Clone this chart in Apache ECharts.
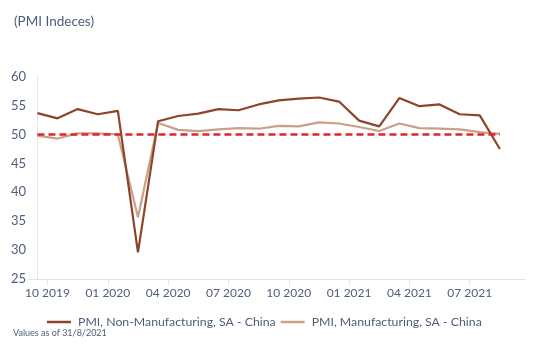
<!DOCTYPE html>
<html>
<head>
<meta charset="utf-8">
<script src="https://cdn.jsdelivr.net/npm/echarts@6/dist/echarts.min.js"></script>
<style>html,body{margin:0;padding:0;background:#fff;}#c{width:556px;height:359px;}</style>
</head>
<body>
<div id="c"></div>
<script>
// Monthly, Sep 2019 .. Aug 2021
const months = ['09 2019','10 2019','11 2019','12 2019','01 2020','02 2020','03 2020','04 2020','05 2020','06 2020','07 2020','08 2020','09 2020','10 2020','11 2020','12 2020','01 2021','02 2021','03 2021','04 2021','05 2021','06 2021','07 2021','08 2021'];
const nonManufacturing = [53.7,52.8,54.4,53.5,54.1,29.6,52.3,53.2,53.6,54.4,54.2,55.2,55.9,56.2,56.4,55.7,52.4,51.4,56.3,54.9,55.2,53.5,53.3,47.5];
const manufacturing = [49.8,49.3,50.2,50.2,50.0,35.7,52.0,50.8,50.6,50.9,51.1,51.0,51.5,51.4,52.1,51.9,51.3,50.6,51.9,51.1,51.0,50.9,50.4,50.1];
const threshold = 50;
const tickLabels = ['10 2019','01 2020','04 2020','07 2020','10 2020','01 2021','04 2021','07 2021'];
const tickPositions = [0.5,3.5,6.5,9.5,12.5,15.5,18.5,21.5];

const FONT = 'Lato';
const TXT = '#4f5d7a';
const chart = echarts.init(document.getElementById('c'), null, {renderer:'canvas'});
const toPairs = arr => arr.map((v,i)=>[i,v]);
chart.setOption({
  animation:false,
  textStyle:{fontFamily:FONT},
  grid:{left:29, right:31, top:76.7, bottom:80, containLabel:false},
  graphic:[
    {type:'text', left:14, top:15, style:{text:'(PMI Indeces)', fill:TXT, font:'13.5px '+FONT}},
    {type:'text', left:13, top:328.5, style:{text:'Values as of 31/8/2021', fill:TXT, font:'9px '+FONT}}
  ],
  legend:{
    left:42, top:311, itemWidth:24, itemHeight:2.5, itemGap:5, icon:'rect',
    textStyle:{color:TXT, fontSize:12.3, fontFamily:FONT, padding:[0,0,0,2]},
    data:['PMI, Non-Manufacturing, SA - China','PMI, Manufacturing, SA - China']
  },
  xAxis:{
    type:'value', min:-0.42, max:24.25,
    axisLine:{show:true, lineStyle:{color:'#e3e3e3', width:1}},
    axisTick:{show:true, length:6, customValues:tickPositions, lineStyle:{color:'#e3e3e3'}},
    axisLabel:{customValues:tickPositions, color:TXT, fontSize:12, fontFamily:FONT, margin:8,
      formatter:(v)=>{const i=tickPositions.indexOf(v); return i>=0?tickLabels[i]:'';}},
    splitLine:{show:false}
  },
  yAxis:{
    type:'value', min:25, max:60, interval:5,
    axisLine:{show:true, lineStyle:{color:'#e6e6e6', width:1}},
    axisTick:{show:false},
    axisLabel:{color:TXT, fontSize:13, fontFamily:FONT, margin:3},
    splitLine:{show:false}
  },
  series:[
    {name:'PMI, Non-Manufacturing, SA - China', type:'line', data:toPairs(nonManufacturing), symbol:'none',
     lineStyle:{color:'#8c4528', width:2.2}, itemStyle:{color:'#8c4528'}, z:3,
     markLine:{silent:true, symbol:'none', label:{show:false},
       lineStyle:{color:'#e3232b', type:[7,4], width:2.5},
       data:[[{coord:[0,threshold]},{coord:[nonManufacturing.length-1,threshold]}]]}},
    {name:'PMI, Manufacturing, SA - China', type:'line', data:toPairs(manufacturing), symbol:'none',
     lineStyle:{color:'#c9a088', width:2.2}, itemStyle:{color:'#c9a088'}, z:2}
  ]
});
</script>
</body>
</html>
